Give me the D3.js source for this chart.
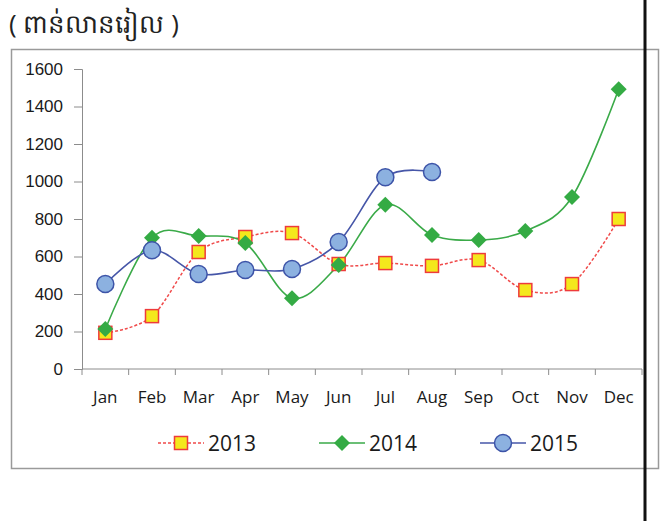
<!DOCTYPE html>
<html>
<head>
<meta charset="utf-8">
<script src="https://cdn.jsdelivr.net/npm/d3@7"></script>
<style>
  body { margin: 0; background: #fff; }
  svg { display: block; font-family: "Open Sans", "Liberation Sans", sans-serif; }
</style>
</head>
<body>
<svg id="chart" width="662" height="521"></svg>
<script>
const months = ["Jan", "Feb", "Mar", "Apr", "May", "Jun", "Jul", "Aug", "Sep", "Oct", "Nov", "Dec"];
const years = ["2013", "2014", "2015"];
const v2013 = [193, 282, 624, 704, 725, 560, 565, 550, 581, 421, 453, 800];
const v2014 = [213, 700, 709, 672, 378, 555, 876, 715, 688, 736, 917, 1492];
const v2015 = [453, 633, 507, 528, 533, 677, 1023, 1051];
const yTicks = [0, 200, 400, 600, 800, 1000, 1200, 1400, 1600];

const svg = d3.select("#chart");

// outer frame
svg.append("rect")
  .attr("x", 11.5).attr("y", 49.5)
  .attr("width", 647).attr("height", 419)
  .attr("fill", "none").attr("stroke", "#9a9a9a").attr("stroke-width", 1.5);

svg.append("text")
  .attr("x", 9).attr("y", 33)
  .style("font-size", "26px")
  .style("fill", "#222")
  .text("( ពាន់លានរៀល )");

const x = d3.scaleBand().domain(months).range([82, 642]);
const y = d3.scaleLinear().domain([0, 1600]).range([369, 69]);
const cx = m => x(m) + x.bandwidth() / 2;

// y axis
const yAxis = svg.append("g")
  .attr("transform", "translate(82,0)")
  .call(d3.axisLeft(y).tickValues(yTicks).tickSize(8).tickPadding(11).tickFormat(d3.format("d")));
yAxis.selectAll("line, path").attr("stroke", "#8c8c8c");
yAxis.selectAll("text").style("font-size", "17px").style("fill", "#1a1a1a");

// x axis: ticks between categories
const xAxis = svg.append("g").attr("transform", "translate(0,369)");
xAxis.append("line")
  .attr("x1", 82).attr("x2", 642)
  .attr("stroke", "#8c8c8c");
xAxis.selectAll("line.tk")
  .data(d3.range(months.length + 1))
  .join("line")
  .attr("class", "tk")
  .attr("x1", i => 82 + i * x.step()).attr("x2", i => 82 + i * x.step())
  .attr("y1", 0).attr("y2", 6)
  .attr("stroke", "#8c8c8c");
xAxis.selectAll("text")
  .data(months)
  .join("text")
  .attr("x", d => cx(d))
  .attr("y", 34)
  .attr("text-anchor", "middle")
  .style("font-size", "17px")
  .style("fill", "#1a1a1a")
  .text(d => d);

const line = d3.line()
  .x(d => cx(d.m))
  .y(d => y(d.v))
  .curve(d3.curveCardinal.tension(0));

const series = [
  { name: "2013", vals: v2013, stroke: "#f04a4a", dash: "3,2", width: 1.5 },
  { name: "2014", vals: v2014, stroke: "#3aaa48", dash: null, width: 1.6 },
  { name: "2015", vals: v2015, stroke: "#4656a8", dash: null, width: 1.6 }
];

series.forEach(s => {
  const pts = s.vals.map((v, i) => ({ m: months[i], v }));
  svg.append("path")
    .datum(pts)
    .attr("d", line)
    .attr("fill", "none")
    .attr("stroke", s.stroke)
    .attr("stroke-width", s.width)
    .attr("stroke-dasharray", s.dash);
  s.pts = pts;
});

function marker(g, name, px, py) {
  if (name === "2013") {
    g.append("rect")
      .attr("x", px - 6.5).attr("y", py - 6.5).attr("width", 13).attr("height", 13)
      .attr("fill", "#f4e81c").attr("stroke", "#ee3b3b").attr("stroke-width", 1.5);
  } else if (name === "2014") {
    g.append("path")
      .attr("d", `M${px},${py - 8}L${px + 8},${py}L${px},${py + 8}L${px - 8},${py}Z`)
      .attr("fill", "#34ab44");
  } else {
    g.append("circle")
      .attr("cx", px).attr("cy", py).attr("r", 8.5)
      .attr("fill", "#8cb1e0").attr("stroke", "#3d54a8").attr("stroke-width", 1.5);
  }
}

series.forEach(s => {
  const g = svg.append("g");
  s.pts.forEach(d => marker(g, s.name, cx(d.m), y(d.v)));
});

// legend
const legendX = [158, 319, 480];
series.forEach((s, i) => {
  const g = svg.append("g");
  const lx = legendX[i];
  g.append("line")
    .attr("x1", lx).attr("x2", lx + 46)
    .attr("y1", 443).attr("y2", 443)
    .attr("stroke", s.stroke).attr("stroke-width", s.width)
    .attr("stroke-dasharray", s.dash);
  marker(g, s.name, lx + 23, 443);
  g.append("text")
    .attr("x", lx + 50).attr("y", 451)
    .style("font-size", "21px")
    .style("fill", "#1a1a1a")
    .text(s.name);
});

// black vertical rule at right
svg.append("line")
  .attr("x1", 645).attr("x2", 645)
  .attr("y1", 0).attr("y2", 521)
  .attr("stroke", "#111").attr("stroke-width", 3);
</script>
</body>
</html>
